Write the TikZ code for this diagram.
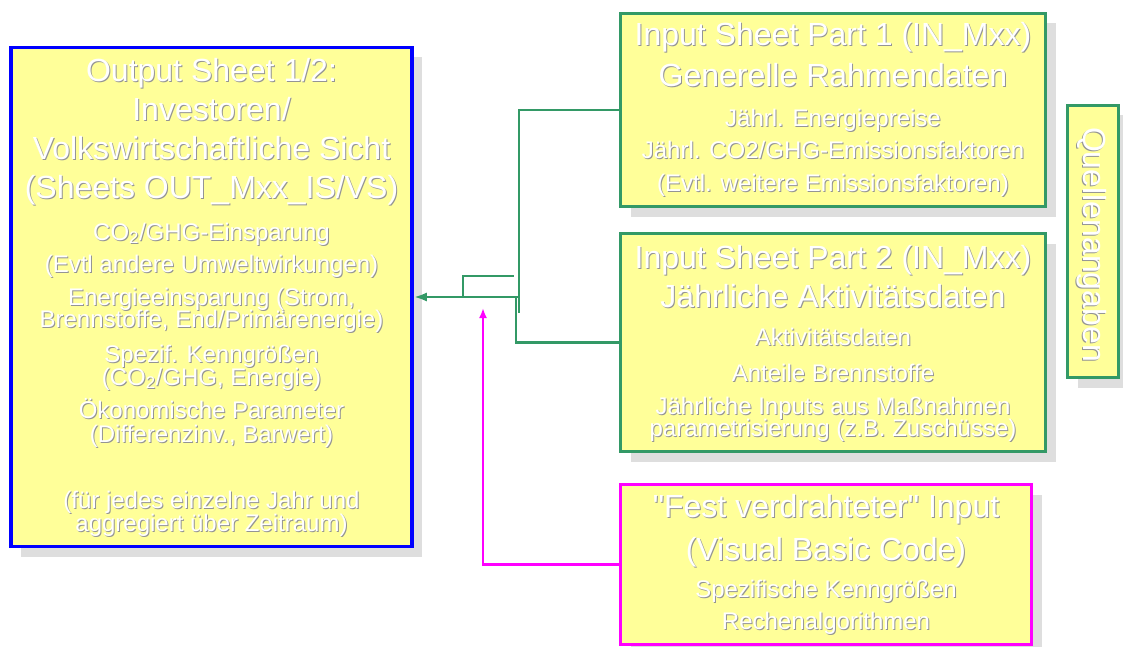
\documentclass[tikz,border=0pt]{standalone}
\usepackage{fontspec}
\setmainfont{Liberation Sans}[Ligatures=TeXOff]
\usetikzlibrary{arrows.meta,shadows}
\definecolor{boxyellow}{HTML}{FFFF99}
\definecolor{sgreen}{RGB}{51,153,102}
\definecolor{mgt}{RGB}{255,0,255}
\definecolor{tshadow}{gray}{0.58}
\definecolor{shadowgray}{gray}{0.87}
\newcommand\sht[1]{\leavevmode\rlap{\kern1pt\raisebox{-1pt}{\color{tshadow}#1}}#1}
\begin{document}
\begin{tikzpicture}[x=1pt,y=-1pt,
  ybox/.style={rectangle, fill=boxyellow, inner sep=0pt,
    drop shadow={shadow xshift=10pt, shadow yshift=-10pt, fill=shadowgray, opacity=1}},
  ttl/.style={anchor=base, inner sep=0pt, text=white, font=\fontsize{32}{38}\selectfont},
  sml/.style={anchor=base, inner sep=0pt, text=white, font=\fontsize{24}{23}\selectfont},
  gline/.style={draw=sgreen, line width=2.6pt},
  mline/.style={draw=mgt, line width=2.4pt}]
\fill[white] (0,0) rectangle (1123,647);
\useasboundingbox (0,0) rectangle (1123,647);

% boxes
\node[ybox, draw=blue, line width=3.5pt, minimum width=401pt, minimum height=499pt] (out) at (211.5,297) {};
\node[ybox, draw=sgreen, line width=3pt, minimum width=425pt, minimum height=193pt] (in1) at (833,110) {};
\node[ybox, draw=sgreen, line width=3pt, minimum width=425pt, minimum height=218pt] (in2) at (833,342.5) {};
\node[ybox, draw=mgt, line width=3pt, minimum width=411pt, minimum height=160pt] (fest) at (826,564.5) {};
\node[ybox, draw=sgreen, line width=3pt, minimum width=51pt, minimum height=272pt] (quelle) at (1093,241.5) {};

% output box texts
\node[ttl] (ot1) at (211.5,82) {\sht{Output Sheet 1/2:}};
\node[ttl] (ot2) at (211.5,121) {\sht{Investoren/}};
\node[ttl] (ot3) at (211.5,159.5) {\sht{Volkswirtschaftliche Sicht}};
\node[ttl] (ot4) at (211.5,198) {\sht{(Sheets OUT\_Mxx\_IS/VS)}};
\node[sml] (os1) at (211.5,240) {\sht{CO\textsubscript{2}/GHG-Einsparung}};
\node[sml] (os2) at (211.5,272) {\sht{(Evtl andere Umweltwirkungen)}};
\node[sml] (os3) at (211.5,305) {\sht{Energieeinsparung (Strom,}};
\node[sml] (os4) at (211.5,327) {\sht{Brennstoffe, End/Primärenergie)}};
\node[sml] (os5) at (211.5,362) {\sht{Spezif. Kenngrößen}};
\node[sml] (os6) at (211.5,385) {\sht{(CO\textsubscript{2}/GHG, Energie)}};
\node[sml] (os7) at (211.5,418) {\sht{Ökonomische Parameter}};
\node[sml] (os8) at (211.5,442) {\sht{(Differenzinv., Barwert)}};
\node[sml] (os9) at (211.5,508) {\sht{(für jedes einzelne Jahr und}};
\node[sml] (os10) at (211.5,531) {\sht{aggregiert über Zeitraum)}};

% input part 1
\node[ttl] (at1) at (833,46) {\sht{Input Sheet Part 1 (IN\_Mxx)}};
\node[ttl] (at2) at (833,87) {\sht{Generelle Rahmendaten}};
\node[sml] (as1) at (833,127) {\sht{Jährl. Energiepreise}};
\node[sml] (as2) at (833,159) {\sht{Jährl. CO2/GHG-Emissionsfaktoren}};
\node[sml] (as3) at (833,191) {\sht{(Evtl. weitere Emissionsfaktoren)}};

% input part 2
\node[ttl] (bt1) at (833,268) {\sht{Input Sheet Part 2 (IN\_Mxx)}};
\node[ttl] (bt2) at (833,307) {\sht{Jährliche Aktivitätsdaten}};
\node[sml] (bs1) at (833,345) {\sht{Aktivitätsdaten}};
\node[sml] (bs2) at (833,381) {\sht{Anteile Brennstoffe}};
\node[sml] (bs3) at (833,414) {\sht{Jährliche Inputs aus Maßnahmen}};
\node[sml] (bs4) at (833,436) {\sht{parametrisierung (z.B. Zuschüsse)}};

% fest verdrahtet
\node[ttl] (ft1) at (826,517) {\sht{"Fest verdrahteter" Input}};
\node[ttl] (ft2) at (826,560) {\sht{(Visual Basic Code)}};
\node[sml] (fs1) at (826,597) {\sht{Spezifische Kenngrößen}};
\node[sml] (fs2) at (826,629.5) {\sht{Rechenalgorithmen}};

% quellenangaben
\node[ttl, anchor=center, rotate=-90] (qt) at (1091.5,244.5) {\sht{Quellenangaben}};

% connectors
\coordinate (j1) at (519,313);
\coordinate (j2) at (516,297);
\coordinate (jm) at (519,297);
\coordinate (s1) at (463,297);
\coordinate (s2) at (514,276);
\coordinate (m1) at (483,308);
\draw[gline] (in1.west) -| (j1);
\draw[gline] (in2.west) -| (j2);
\draw[gline, -{Latex[length=13pt,width=9pt]}] (jm) -- (out.east);
\draw[gline] (s1) |- (s2);
\draw[mline, -{Latex[length=10pt,width=8pt]}] (fest.west) -| (m1);
\end{tikzpicture}
\end{document}
